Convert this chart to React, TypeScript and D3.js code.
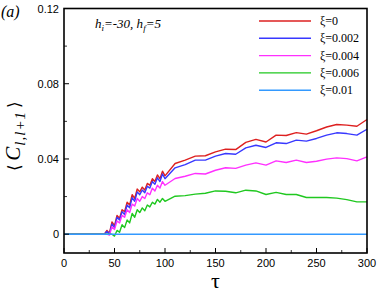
import React from 'react';
import * as d3 from 'd3';

// time axis samples
const tau = [
  0, 40, 42.5, 45, 47.5, 50, 52.5, 55, 57.5, 60, 62.5, 65, 67.5, 70, 72.5, 75, 77.5, 80,
  82.5, 85, 87.5, 90, 92.5, 95, 97.5, 100,
  110, 120, 130, 140, 150, 160, 170, 180, 190, 200, 210, 220, 230, 240, 250, 260, 270, 280, 290, 300,
];

// values in units of 1e-3
const xi0 = [
  0, 0, 2, 0.5, 6.5, 4.5, 10, 8.5, 13, 12, 17, 15.5, 21, 19, 24, 22.5, 25, 23.5,
  27, 26, 29.5, 28, 31.5, 29.5, 33.5, 31,
  37.6, 39.4, 41.5, 41.7, 43.8, 45.2, 45, 48.8, 50.4, 49, 52.7, 52.5, 54, 53.2, 55, 57, 58.3, 58, 57.4, 61,
];
const xi002 = [
  0, 0, 1.5, 0, 5.5, 3.5, 9, 7.5, 12, 10.5, 15.5, 14, 19.5, 17.5, 22.5, 21, 23.5, 22,
  25.5, 24.5, 28, 26.5, 30, 28, 32, 29.5,
  35.3, 37, 39.4, 39.4, 41.5, 42.9, 42.5, 45.9, 47.3, 46.1, 48.6, 48.2, 50, 49.5, 50.9, 52.7, 53.9, 53.5, 52.7, 55.8,
];
const xi004 = [
  0, 0, 0, -0.5, 4, 2.5, 7, 6, 10, 9, 13, 11.5, 16, 15, 19, 17.5, 20, 19,
  22, 21, 24.5, 23, 26, 24.5, 28, 26,
  29.6, 30.8, 32.3, 32, 34, 35.3, 35, 36.7, 37.9, 36.7, 39, 38.1, 39.4, 38.1, 38.8, 39.9, 40.6, 40.2, 39, 41.1,
];
const xi006 = [
  0, 0, 0, 0, 0, -1, 2, 1, 5, 3.5, 7.5, 6, 11, 9, 13, 11.5, 14, 12.5,
  15.5, 14.5, 17, 16, 18.5, 17, 19, 17.5,
  20.2, 20.5, 21.3, 21.8, 23, 22.8, 22, 23.4, 23, 21.1, 22.2, 21.1, 21.1, 19.5, 19.5, 19.5, 19.2, 18.4, 17.2, 17.2,
];
const xi01 = tau.map(() => 0);

const seriesNames = ['ξ=0', 'ξ=0.002', 'ξ=0.004', 'ξ=0.006', 'ξ=0.01'];
const seriesValues = [xi0, xi002, xi004, xi006, xi01];
const seriesColors = ['#dd2020', '#3838ff', '#ff30ff', '#20c820', '#3399ff'];

const xMajor = [0, 50, 100, 150, 200, 250, 300];
const xMinor = [25, 75, 125, 175, 225, 275];
const yMajor = [0, 0.04, 0.08, 0.12];
const yMinor = [0.02, 0.06, 0.1];

const W = 379;
const H = 292;
const plot = { left: 64, right: 367, top: 8.5, bottom: 253 };

const serif = '"Liberation Serif", "DejaVu Serif", serif';
const sans = '"Liberation Sans", Arial, sans-serif';

export default function App() {
  const x = d3.scaleLinear().domain([0, 300]).range([plot.left, plot.right]);
  const y = d3.scaleLinear().domain([-0.01, 0.12]).range([plot.bottom, plot.top]);

  const line = d3
    .line<number>()
    .x((_, i) => x(tau[i]))
    .y((d) => y(d / 1000));

  const fmtY = (v: number) => (v === 0 ? '0' : v.toFixed(2));

  return (
    <svg
      width={W}
      height={H}
      style={{ position: 'absolute', left: 0, top: 0, background: '#fff' }}
    >
      {/* series */}
      {seriesValues.map((vals, i) => (
        <path
          key={i}
          d={line(vals) || ''}
          fill="none"
          stroke={seriesColors[i]}
          strokeWidth={1.4}
          strokeLinejoin="round"
        />
      ))}

      {/* frame */}
      <rect
        x={plot.left}
        y={plot.top}
        width={plot.right - plot.left}
        height={plot.bottom - plot.top}
        fill="none"
        stroke="#000"
        strokeWidth={1.6}
      />

      {/* x ticks */}
      {xMajor.map((t) => (
        <g key={'xm' + t}>
          <line x1={x(t)} x2={x(t)} y1={plot.bottom} y2={plot.bottom - 5} stroke="#000" strokeWidth={1} />
          <text x={x(t)} y={267} textAnchor="middle" fontFamily={sans} fontSize={11} fill="#000">
            {t}
          </text>
        </g>
      ))}
      {xMinor.map((t) => (
        <line key={'xn' + t} x1={x(t)} x2={x(t)} y1={plot.bottom} y2={plot.bottom - 3} stroke="#000" strokeWidth={0.8} />
      ))}

      {/* y ticks */}
      {yMajor.map((t) => (
        <g key={'ym' + t}>
          <line x1={plot.left} x2={plot.left + 5} y1={y(t)} y2={y(t)} stroke="#000" strokeWidth={1} />
          <text x={59} y={y(t) + 4} textAnchor="end" fontFamily={sans} fontSize={11} fill="#000">
            {fmtY(t)}
          </text>
        </g>
      ))}
      {yMinor.map((t) => (
        <line key={'yn' + t} x1={plot.left} x2={plot.left + 3} y1={y(t)} y2={y(t)} stroke="#000" strokeWidth={0.8} />
      ))}

      {/* legend */}
      {seriesNames.map((name, i) => {
        const ly = 21 + i * 17.3;
        return (
          <g key={name}>
            <line x1={259} x2={311} y1={ly} y2={ly} stroke={seriesColors[i]} strokeWidth={1.4} />
            <text x={320} y={ly + 4} fontFamily={serif} fontSize={12} fill="#000">
              {name}
            </text>
          </g>
        );
      })}

      {/* annotation */}
      <text x={95} y={28} fontFamily={serif} fontSize={13} fontStyle="italic" fill="#000">
        h<tspan dy={3} fontSize={9}>i</tspan>
        <tspan dy={-3}>=-30, h</tspan>
        <tspan dy={3} fontSize={9}>f</tspan>
        <tspan dy={-3}>=5</tspan>
      </text>

      {/* panel label */}
      <text x={1} y={17} fontFamily={serif} fontSize={16} fontStyle="italic" fill="#000">
        (a)
      </text>

      {/* axis titles */}
      <text
        x={(plot.left + plot.right) / 2}
        y={288}
        textAnchor="middle"
        fontFamily={serif}
        fontSize={22}
        fill="#000"
      >
        τ
      </text>
      <text
        transform="translate(20,136) rotate(-90)"
        textAnchor="middle"
        fontFamily={serif}
        fontSize={21}
        fill="#000"
      >
        <tspan fontFamily='"DejaVu Sans", sans-serif' fontSize={17} fontWeight={300}>⟨</tspan>
        <tspan fontStyle="italic" dx={3}>C</tspan>
        <tspan fontStyle="italic" fontSize={15} dy={5} dx={1} letterSpacing={1}>l,l+1</tspan>
        <tspan fontFamily='"DejaVu Sans", sans-serif' fontSize={17} dy={-5} dx={3}>⟩</tspan>
      </text>
    </svg>
  );
}
